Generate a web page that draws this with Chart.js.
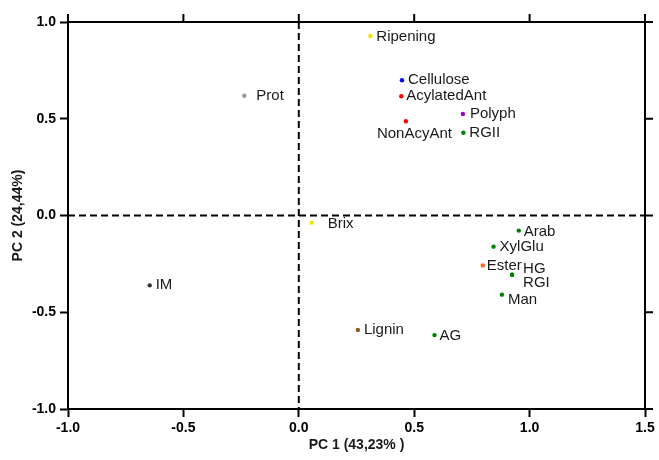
<!DOCTYPE html>
<html>
<head>
<meta charset="utf-8">
<script src="https://cdn.jsdelivr.net/npm/chart.js@4/dist/chart.umd.min.js"></script>
<style>
  html, body { margin: 0; padding: 0; background: #fff; }
  #wrap { width: 659px; height: 460px; }
</style>
</head>
<body>
<div id="wrap"><canvas id="myChart"></canvas></div>
<script>
// PCA loadings
const names = ['Ripening', 'Cellulose', 'AcylatedAnt', 'NonAcyAnt', 'Polyph', 'RGII', 'Prot', 'Brix',
    'Arab', 'XylGlu', 'Ester', 'HG', 'RGI', 'Man', 'Lignin', 'AG', 'IM'];
const pc1 = [0.31, 0.447, 0.444, 0.464, 0.711, 0.713, -0.236, 0.056,
    0.953, 0.844, 0.797, 0.924, 0.924, 0.880, 0.256, 0.588, -0.646];
const pc2 = [0.928, 0.699, 0.616, 0.487, 0.525, 0.428, 0.619, -0.037,
    -0.078, -0.161, -0.258, -0.306, -0.306, -0.409, -0.592, -0.618, -0.361];
const xTicks = [-1.0, -0.5, 0.0, 0.5, 1.0, 1.5];
const yTicks = [-1.0, -0.5, 0.0, 0.5, 1.0];

// styling, kept apart from the data
const dotColors = ['#f5e400', '#0000ff', '#ff0000', '#ff0000', '#9900cc', '#008000', '#999999', '#f5e400',
    '#008000', '#008000', '#ff6a1a', '#008000', '#008000', '#008000', '#8b5a2b', '#008000', '#333333'];
// label offsets in px from the dot (left edge of text, vertical middle)
const labelOffsets = [[6, 1], [6, 0], [5, 0], [-29, 13], [7, 0], [6, 0], [12, 0], [16, 1],
    [5, 1], [6, 0], [4, 0], [11, -6], [11, 8], [6, 5], [6, 0], [5, 1], [6, 0]];

const points = names.map((n, i) => ({ x: pc1[i], y: pc2[i] }));

const extras = {
    id: 'extras',
    beforeDatasetsDraw(chart) {
        const ctx = chart.ctx;
        const a = chart.chartArea;
        const x = chart.scales.x, y = chart.scales.y;
        ctx.save();
        ctx.strokeStyle = '#000';
        ctx.lineWidth = 2;
        ctx.setLineDash([7, 4]);
        ctx.beginPath();
        ctx.moveTo(x.getPixelForValue(0), a.top);
        ctx.lineTo(x.getPixelForValue(0), a.bottom);
        ctx.moveTo(a.left, y.getPixelForValue(0));
        ctx.lineTo(a.right, y.getPixelForValue(0));
        ctx.stroke();
        ctx.restore();
    },
    afterDatasetsDraw(chart) {
        const ctx = chart.ctx;
        const meta = chart.getDatasetMeta(0);
        ctx.save();
        ctx.font = '15px "Liberation Sans", Arial, sans-serif';
        ctx.fillStyle = '#1a1a1a';
        ctx.textAlign = 'left';
        ctx.textBaseline = 'middle';
        meta.data.forEach((el, i) => {
            ctx.fillText(names[i], el.x + labelOffsets[i][0], el.y + labelOffsets[i][1]);
        });
        ctx.restore();
    },
    afterDraw(chart) {
        const ctx = chart.ctx;
        const a = chart.chartArea;
        const x = chart.scales.x, y = chart.scales.y;
        ctx.save();
        ctx.strokeStyle = '#000';
        ctx.lineWidth = 2;
        ctx.beginPath();
        ctx.moveTo(a.left - 1, a.top);
        ctx.lineTo(a.right, a.top);
        ctx.lineTo(a.right, a.bottom + 1);
        xTicks.forEach(v => {
            const px = x.getPixelForValue(v);
            ctx.moveTo(px, a.top);
            ctx.lineTo(px, a.top - 8);
        });
        yTicks.forEach(v => {
            const py = y.getPixelForValue(v);
            ctx.moveTo(a.right, py);
            ctx.lineTo(a.right + 8, py);
        });
        ctx.stroke();
        ctx.restore();
    }
};

const tickFont = { family: '"Liberation Sans", Arial, sans-serif', size: 14, weight: 'bold' };

new Chart('myChart', {
    type: 'scatter',
    data: {
        datasets: [{
            data: points,
            pointBackgroundColor: dotColors,
            pointBorderWidth: 0,
            pointRadius: 2.2
        }]
    },
    options: {
        responsive: true,
        maintainAspectRatio: false,
        animation: false,
        layout: { padding: { left: 0, top: 22, right: 14, bottom: 0 } },
        plugins: { legend: { display: false }, tooltip: { enabled: false } },
        scales: {
            x: {
                type: 'linear',
                min: -1, max: 1.5,
                afterBuildTicks: s => { s.ticks = xTicks.map(v => ({ value: v })); },
                afterFit: s => { s.height = 51; },
                ticks: { color: '#000', font: tickFont, padding: 3, callback: v => v.toFixed(1), maxRotation: 0 },
                grid: { drawOnChartArea: false, tickLength: 8, tickWidth: 2, tickColor: '#000' },
                border: { display: true, width: 2, color: '#000' },
                title: { display: true, text: 'PC 1 (43,23% )', color: '#1a1a1a', font: tickFont, padding: { top: 0, bottom: 6 } }
            },
            y: {
                type: 'linear',
                min: -1, max: 1,
                afterBuildTicks: s => { s.ticks = yTicks.map(v => ({ value: v })); },
                afterFit: s => { s.width = 68; },
                ticks: { color: '#000', font: tickFont, padding: 4, callback: v => v.toFixed(1) },
                grid: { drawOnChartArea: false, tickLength: 8, tickWidth: 2, tickColor: '#000' },
                border: { display: true, width: 2, color: '#000' },
                title: { display: true, text: 'PC 2 (24,44%)', color: '#1a1a1a', font: tickFont, padding: { top: 10, bottom: 10 } }
            }
        }
    },
    plugins: [extras]
});
</script>
</body>
</html>
